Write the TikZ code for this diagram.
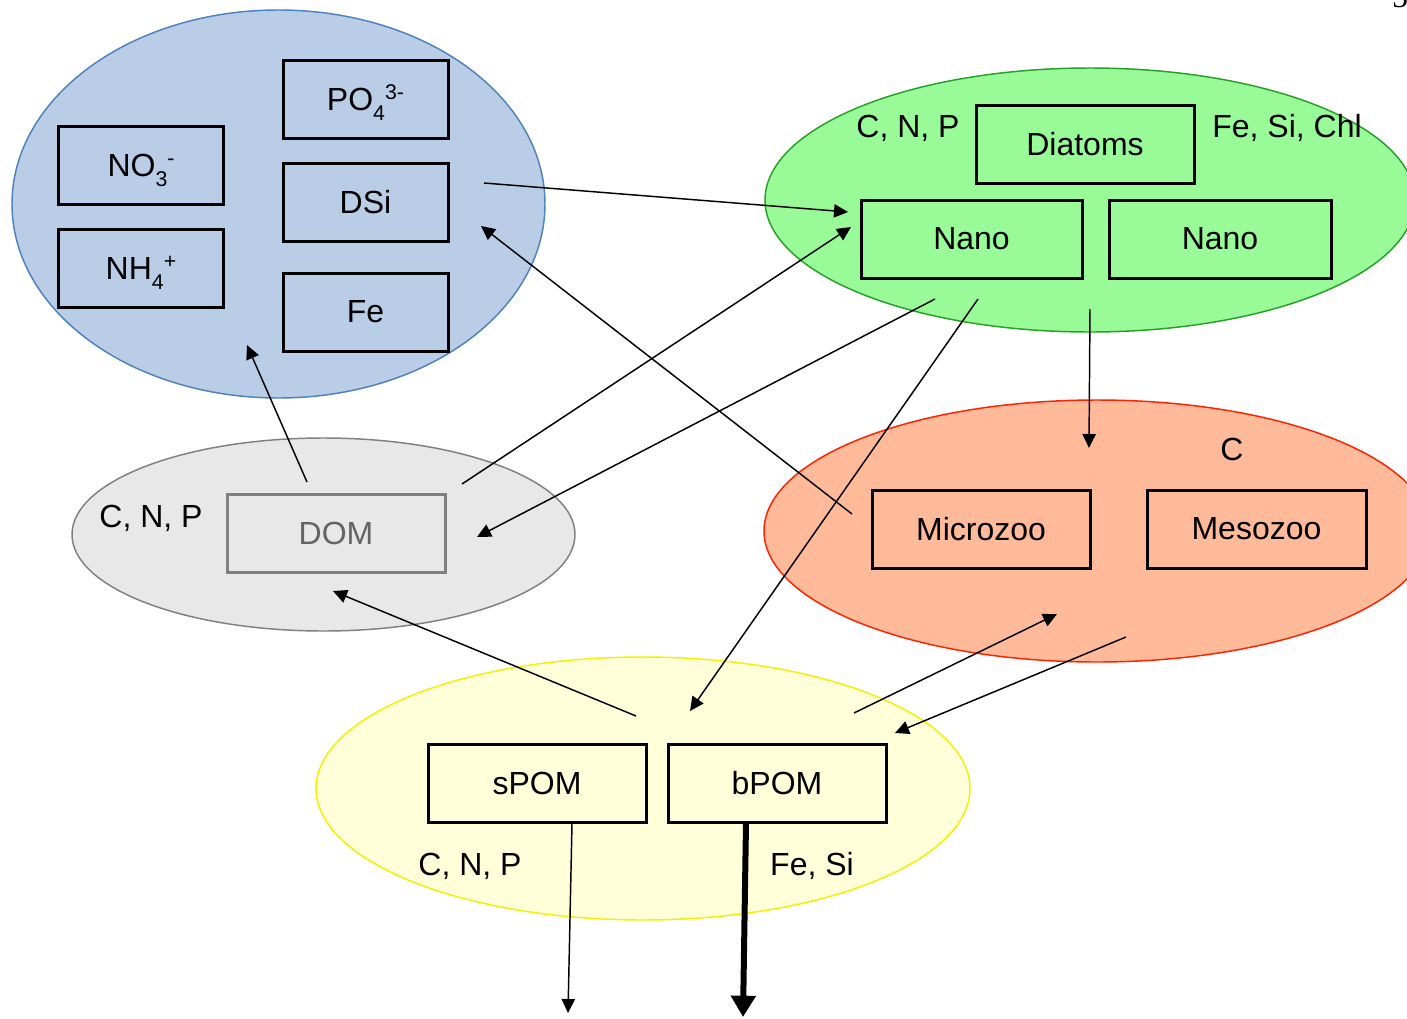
\documentclass[tikz,border=0pt]{standalone}
\usepackage{fontspec}
\setmainfont{Liberation Sans}
\newfontfamily\serifpart{Liberation Serif}
\usetikzlibrary{arrows.meta}
\definecolor{nutfill}{RGB}{185,206,230}
\definecolor{nutline}{RGB}{79,129,189}
\definecolor{phytofill}{RGB}{152,251,152}
\definecolor{phytoline}{RGB}{40,160,40}
\definecolor{domfill}{RGB}{232,232,232}
\definecolor{domline}{RGB}{128,128,128}
\definecolor{domtext}{RGB}{100,100,100}
\definecolor{zoofill}{RGB}{255,187,153}
\definecolor{zooline}{RGB}{255,34,0}
\definecolor{pomfill}{RGB}{255,255,218}
\definecolor{pomline}{RGB}{245,240,0}
% ion charges and indices set beside each other, as in NO3-
\newcommand\ionidx[2]{\smash{\raisebox{-7.5pt}{\fontsize{16}{18}\selectfont #1}\raisebox{8pt}{\fontsize{16}{18}\selectfont #2}}}
\tikzset{
  pool/.style={draw, line width=1.1pt},
  box/.style={draw, line width=2.25pt, minimum width={218*0.75pt}, minimum height={78*0.75pt}, inner sep=0pt, font=\fontsize{24}{28}\selectfont},
  smallbox/.style={box, minimum width={165*0.75pt}},
  tag/.style={font=\fontsize{24}{28}\selectfont, inner sep=0pt},
  flow/.style={line width=1.1pt, -{Triangle[length=10.5pt,width=10pt]}},
  export/.style={line width=4.5pt, -{Triangle[length=16pt,width=18pt]}},
}
\begin{document}
\begin{tikzpicture}[x=0.75pt,y=-0.75pt]
\useasboundingbox (0,0) rectangle (1407,1018);
\clip (0,0) rectangle (1407,1018);

% pools
\draw[pool, fill=nutfill, draw=nutline] (278.5,204) ellipse [x radius=266.5, y radius=194];
\draw[pool, fill=phytofill, draw=phytoline] (1090,200) ellipse [x radius=325, y radius=132];
\draw[pool, fill=domfill, draw=domline] (323.5,534.5) ellipse [x radius=251.5, y radius=96.5];
\draw[pool, fill=zoofill, draw=zooline] (1097,531) ellipse [x radius=333, y radius=131];
\draw[pool, fill=pomfill, draw=pomline] (643,788.5) ellipse [x radius=327, y radius=131.5];

% nutrients
\node[smallbox] (no3) at (141,165.5) {NO\ionidx{3}{-}};
\node[smallbox] (nh4) at (141,268) {NH\ionidx{4}{+}};
\node[smallbox] (po4) at (365.5,99) {PO\ionidx{4}{3-}};
\node[smallbox] (dsi) at (365.5,202) {DSi};
\node[smallbox] (fe) at (365.5,312) {Fe};

% phytoplankton
\node[box] (diatoms) at (1085,144) {Diatoms};
\node[box, minimum width={221*0.75pt}] (nano1) at (971.5,239) {Nano};
\node[box, minimum width={222*0.75pt}] (nano2) at (1220,239) {Nano};
\node[tag] (phyCNP) at (908,128) {C, N, P};
\node[tag] (phyFe) at (1287,128) {Fe, Si, Chl};

% dissolved organic matter
\node[box, draw=domline, text=domtext] (dom) at (336,533) {DOM};
\node[tag] (domCNP) at (151,518) {C, N, P};

% zooplankton
\node[box] (micro) at (981,529) {Microzoo};
\node[box, minimum width={219*0.75pt}] (meso) at (1256.5,529) {Mesozoo};
\node[tag] (zooC) at (1232,449) {C};

% particulate organic matter
\node[box] (spom) at (537,783) {sPOM};
\node[box] (bpom) at (777,783) {bPOM};
\node[tag] (pomCNP) at (470,866) {C, N, P};
\node[tag] (pomFe) at (812,866) {Fe, Si};

\node[font=\serifpart\fontsize{24}{28}\selectfont, inner sep=0pt, anchor=south] (corner) at (1400,8) {5};

% connector ends
\coordinate (dsiOut) at (484,183);
\coordinate (nanoInA) at (848,212);
\coordinate (domOut) at (462,484);
\coordinate (nanoInB) at (851,227);
\coordinate (nanoOutA) at (935,299);
\coordinate (domIn) at (477,537);
\coordinate (microOut) at (852,514);
\coordinate (dsiIn) at (481,226);
\coordinate (nanoOutB) at (978,299);
\coordinate (bpomIn) at (690,711);
\coordinate (phyOut) at (1090,309);
\coordinate (zooIn) at (1089,448);
\coordinate (domUp) at (307,482);
\coordinate (nutIn) at (247,345);
\coordinate (pomOut) at (636,716);
\coordinate (domInB) at (333,591);
\coordinate (pomUp) at (854,713);
\coordinate (zooInB) at (1057,614);
\coordinate (zooOut) at (1126,637);
\coordinate (pomInB) at (895,733);
\coordinate (spomSink) at (568,1013);
\coordinate (bpomSink) at (743,1017);

% fluxes
\draw[flow] (dsiOut) -- (nanoInA);
\draw[flow] (domOut) -- (nanoInB);
\draw[flow] (nanoOutA) -- (domIn);
\draw[flow] (microOut) -- (dsiIn);
\draw[flow] (nanoOutB) -- (bpomIn);
\draw[flow] (phyOut) -- (zooIn);
\draw[flow] (domUp) -- (nutIn);
\draw[flow] (pomOut) -- (domInB);
\draw[flow] (pomUp) -- (zooInB);
\draw[flow] (zooOut) -- (pomInB);
\draw[flow] ([xshift={35*0.75pt}]spom.south) -- (spomSink);
\draw[export] ([xshift={-31*0.75pt}]bpom.south) -- (bpomSink);
\end{tikzpicture}
\end{document}
